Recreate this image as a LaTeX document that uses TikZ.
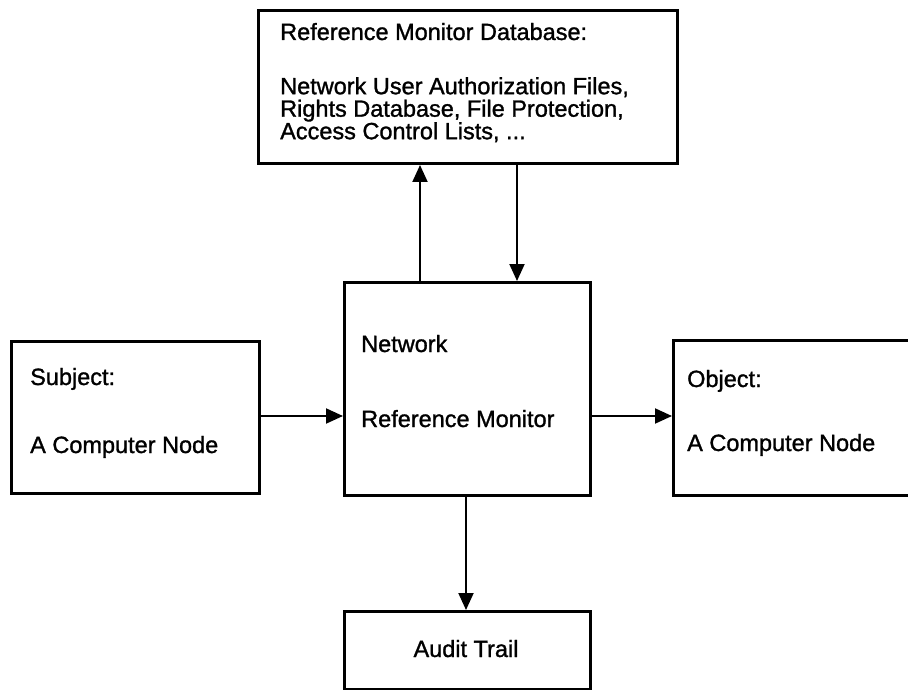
\documentclass[tikz,border=0pt]{standalone}
\usepackage{fontspec}
\setmainfont{Liberation Sans}[FakeBold=1.2]
\usetikzlibrary{arrows.meta}
\begin{document}
\begin{tikzpicture}[x=1pt,y=-1pt,
  box/.style={draw=black, line width=3pt, fill=none, anchor=north west, inner sep=0pt, rectangle},
  txt/.style={anchor=base west, inner sep=0pt, align=left, font=\fontsize{23.5}{22.5}\selectfont},
  arr/.style={draw=black, line width=2pt, -{Triangle[width=15pt,length=17pt]}}]
\useasboundingbox (0,0) rectangle (908,690);
% boxes
\node[box, minimum width=419pt, minimum height=153pt] (db) at (257,9) {};
\node[box, minimum width=246pt, minimum height=213pt] (rm) at (343,281) {};
\node[box, minimum width=248pt, minimum height=152pt] (subj) at (10,340) {};
\node[box, minimum width=250pt, minimum height=155pt] (obj) at (672,339) {};
\node[box, minimum width=246pt, minimum height=78pt] (audit) at (343,610) {};
% texts
\node[txt] (t1) at (280,40) {Reference Monitor Database:};
\node[txt, anchor=north west] (t2) at (280,77) {Network User Authorization Files,\\Rights Database, File Protection,\\Access Control Lists, ...};
\node[txt] (t5) at (361,352) {Network};
\node[txt] (t6) at (361,427) {Reference Monitor};
\node[txt] (t7) at (30,385) {Subject:};
\node[txt] (t8) at (30,453) {A Computer Node};
\node[txt] (t9) at (687,387) {Object:};
\node[txt] (t10) at (687,451) {A Computer Node};
\node[txt, anchor=base] (t11) at (466,657) {Audit Trail};
% connectors
\coordinate (xu) at (420,0);
\coordinate (xd) at (517,0);
\coordinate (xa) at (466,0);
\coordinate (yh) at (0,416);
\draw[arr] (rm.north -| xu) -- (db.south -| xu);
\draw[arr] (db.south -| xd) -- (rm.north -| xd);
\draw[arr] (subj.east |- yh) -- (rm.west |- yh);
\draw[arr] (rm.east |- yh) -- (obj.west |- yh);
\draw[arr] (rm.south -| xa) -- (audit.north -| xa);
\end{tikzpicture}
\end{document}
